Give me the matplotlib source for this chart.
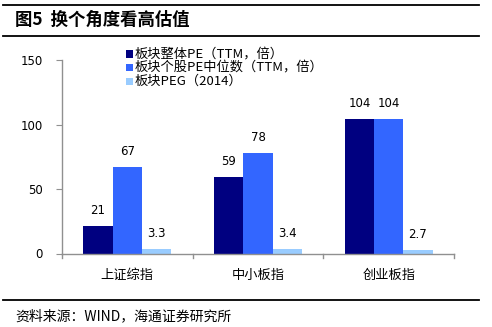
import numpy as np
import matplotlib
matplotlib.use("Agg")
import matplotlib.pyplot as plt
from matplotlib.lines import Line2D
from matplotlib.patches import Rectangle

plt.rcParams["font.family"] = ["Noto Sans CJK SC", "DejaVu Sans"]

# === Data ===
categories = ["上证综指", "中小板指", "创业板指"]
pe_total = [21, 59, 104]
pe_median = [67, 78, 104]
peg_2014 = [3.3, 3.4, 2.7]
pe_total_labels = ["21", "59", "104"]
pe_median_labels = ["67", "78", "104"]
peg_labels = ["3.3", "3.4", "2.7"]
series_names = ["板块整体PE（TTM，倍）", "板块个股PE中位数（TTM，倍）", "板块PEG（2014）"]
yticks = [0, 50, 100, 150]

COLORS = ["#000080", "#3366FF", "#99CCFF"]
GRAY = "#909090"

W, H = 492, 327
fig = plt.figure(figsize=(W / 100, H / 100), dpi=100)


def fx(px):
    return px / W


def fy(py):
    return 1 - py / H


# header / footer rules
for y in (4.5, 35.5, 300):
    fig.add_artist(Line2D([fx(3), fx(479)], [fy(y), fy(y)], color="black", lw=1.3))

fig.text(fx(15), fy(20), "图5  换个角度看高估值", fontsize=12.5, fontweight="bold",
         va="center", ha="left")
fig.text(fx(15), fy(316), "资料来源：WIND，海通证券研究所", fontsize=10,
         va="center", ha="left")

ax = fig.add_axes([fx(62), fy(253.5), fx(454) - fx(62), fy(60) - fy(253.5)])

x = np.arange(len(categories))
bw = 0.224
series = [pe_total, pe_median, peg_2014]
labels = [pe_total_labels, pe_median_labels, peg_labels]
for i, (vals, labs) in enumerate(zip(series, labels)):
    pos = x + (i - 1) * bw
    ax.bar(pos, vals, width=bw, color=COLORS[i], zorder=2)
    for p, v, t in zip(pos, vals, labs):
        ax.text(p, v + 7, t, ha="center", va="bottom", fontsize=8.5,
                family=["DejaVu Sans"])

ax.set_xlim(-0.5, len(categories) - 0.5)
ax.set_ylim(0, 150)
ax.set_yticks(yticks)
ax.set_yticklabels([str(t) for t in yticks], fontsize=8.5, family=["DejaVu Sans"])
ax.set_xticks(x)
ax.set_xticklabels(categories, fontsize=9.5)
ax.tick_params(axis="x", length=0, pad=11)
ax.tick_params(axis="y", length=4, color=GRAY, pad=10)

# category boundary ticks
for b in np.arange(-0.5, len(categories), 1.0):
    ax.plot([b, b], [0, -0.025], transform=ax.get_xaxis_transform(), color=GRAY,
            lw=1, clip_on=False)

for s in ("top", "right"):
    ax.spines[s].set_visible(False)
for s in ("left", "bottom"):
    ax.spines[s].set_color(GRAY)
    ax.spines[s].set_linewidth(1)

# legend, drawn by hand so rows sit where the original has them
for k, (name, c) in enumerate(zip(series_names, COLORS)):
    yc = 54 + k * 13.5
    fig.add_artist(Rectangle((fx(126), fy(yc + 3.5)), fx(7), fy(0) - fy(7),
                             facecolor=c, edgecolor="none"))
    fig.text(fx(135), fy(yc), name, fontsize=9.5, va="center", ha="left")

fig.savefig("out.png", dpi=100)
